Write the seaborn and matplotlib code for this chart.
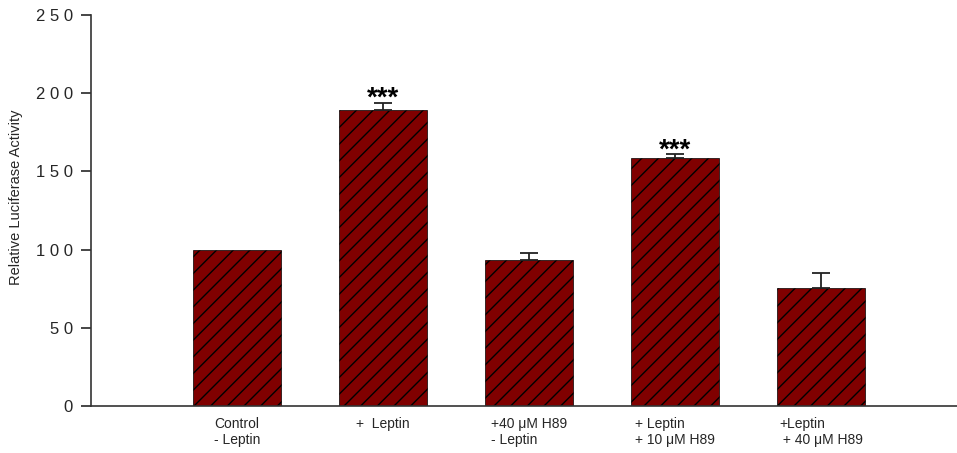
import matplotlib
matplotlib.use("Agg")
import matplotlib.pyplot as plt
import seaborn as sns
import pandas as pd

# values
groups = ["Control\n- Leptin", "+  Leptin", "+40 \u03bcM H89\n- Leptin",
          "+ Leptin\n+ 10 \u03bcM H89", "+Leptin\n + 40 \u03bcM H89"]
activity = [100, 189, 93.5, 158.5, 75.5]
sem = [0, 5, 4.5, 2.5, 9.5]
stars = ["", "***", "", "***", ""]
yticks = [0, 50, 100, 150, 200, 250]
ytick_labels = ["0", "5 0", "1 0 0", "1 5 0", "2 0 0", "2 5 0"]

sns.set_style("ticks")
plt.rcParams["font.family"] = ["Liberation Sans", "DejaVu Sans"]
plt.rcParams["hatch.linewidth"] = 1.0

df = pd.DataFrame({"group": groups, "activity": activity})

fig = plt.figure(figsize=(9.57, 4.53), dpi=100)
ax = fig.add_axes([0.0951, 0.1038, 0.9049, 0.8631])

sns.barplot(data=df, x="group", y="activity", color="#800000", width=0.6,
            saturation=1, errorbar=None, ax=ax)
for bar in ax.patches:
    bar.set_hatch("//")
    bar.set_edgecolor("black")
    bar.set_linewidth(0.5)

# only upward error bars, skip groups without error
ex = [i for i, e in enumerate(sem) if e > 0]
ax.errorbar(ex, [activity[i] for i in ex],
            yerr=[[0] * len(ex), [sem[i] for i in ex]], fmt="none",
            ecolor="#222222", elinewidth=1.3, capsize=6.5, capthick=1.3)

for xi, (m, e, s) in enumerate(zip(activity, sem, stars)):
    if s:
        ax.text(xi, m + e - 2, s, ha="center", va="baseline",
                fontsize=20, fontweight="bold", color="black")

ax.set_xlim(-1, 4.93)
ax.set_ylim(0, 250)
ax.set_yticks(yticks)
ax.set_yticklabels(ytick_labels, fontsize=12)
ax.tick_params(axis="y", length=7, width=1.2, pad=6)
ax.tick_params(axis="x", length=0, pad=8, labelsize=10)
for lbl in ax.get_xticklabels():
    lbl.set_multialignment("left")
ax.set_xlabel("")
ax.set_ylabel("Relative Luciferase Activity", fontsize=10.5)
ax.yaxis.set_label_coords(-0.079, 0.535)
sns.despine(ax=ax)
for sp in ["left", "bottom"]:
    ax.spines[sp].set_linewidth(1.2)
    ax.spines[sp].set_color("#333333")

plt.savefig("out.png", dpi=100)
